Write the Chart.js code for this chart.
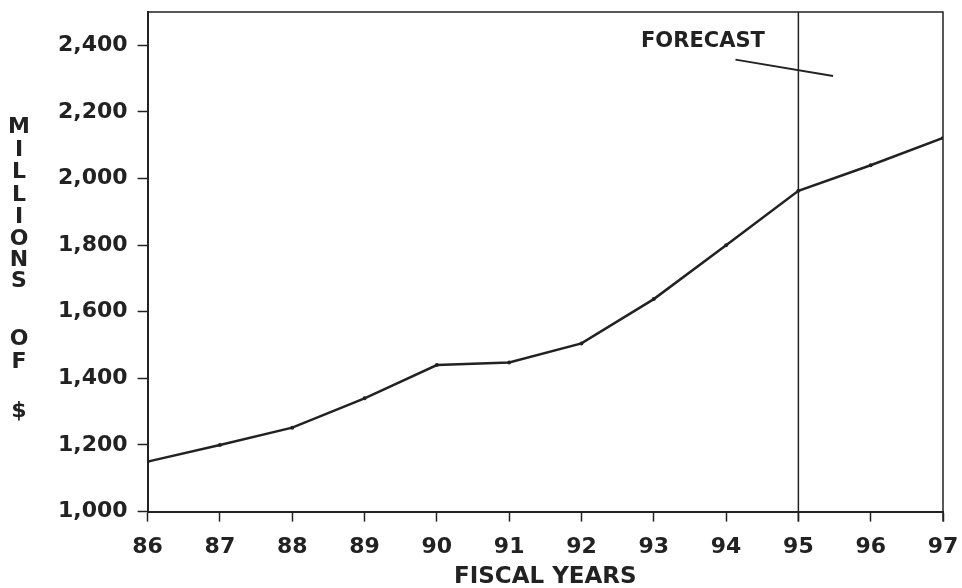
<!DOCTYPE html>
<html>
<head>
<meta charset="utf-8">
<script src="https://cdn.jsdelivr.net/npm/chart.js@4.4.0/dist/chart.umd.min.js"></script>
<style>
  body { margin: 0; background: #fff; }
  canvas { display: block; }
</style>
</head>
<body>
<canvas id="revenueChart" width="962" height="588"></canvas>
<script>
// Datos del gráfico
const years = [86, 87, 88, 89, 90, 91, 92, 93, 94, 95, 96, 97];
const amounts = [1150, 1200, 1252, 1340, 1440, 1448, 1505, 1638, 1800, 1963, 2040, 2122];
const yTicks = [1000, 1200, 1400, 1600, 1800, 2000, 2200, 2400];
const forecastYear = 95;
const yTitleLetters = ["M", "I", "L", "L", "I", "O", "N", "S", "O", "F", "$"];

const ink = "#222";
const font = "DejaVu Sans";

// Marco, línea de pronóstico y textos
const extrasPlugin = {
  id: "extras",
  afterDraw(chart) {
    const { ctx, chartArea, scales } = chart;
    const xs = scales.x;
    const ys = scales.y;
    ctx.save();
    ctx.strokeStyle = ink;

    // borde superior y derecho
    ctx.lineWidth = 1.5;
    ctx.beginPath();
    ctx.moveTo(chartArea.left, chartArea.top);
    ctx.lineTo(chartArea.right, chartArea.top);
    ctx.lineTo(chartArea.right, chartArea.bottom + 10);
    ctx.stroke();

    // línea vertical de pronóstico
    const fx = xs.getPixelForValue(forecastYear);
    ctx.beginPath();
    ctx.moveTo(fx, chartArea.top);
    ctx.lineTo(fx, chartArea.bottom + 10);
    ctx.stroke();

    // texto FORECAST con línea guía
    ctx.fillStyle = ink;
    ctx.font = "bold 21px " + font;
    ctx.textAlign = "center";
    ctx.textBaseline = "middle";
    ctx.fillText("FORECAST", xs.getPixelForValue(93.68), ys.getPixelForValue(2410));
    ctx.lineWidth = 2;
    ctx.beginPath();
    ctx.moveTo(xs.getPixelForValue(94.13), ys.getPixelForValue(2357));
    ctx.lineTo(xs.getPixelForValue(95.48), ys.getPixelForValue(2308));
    ctx.stroke();

    // título del eje X
    ctx.font = "bold 23px " + font;
    ctx.fillText("FISCAL YEARS", (chartArea.left + chartArea.right) / 2, 577);

    // título del eje Y en letras apiladas
    ctx.font = "bold 22px " + font;
    const rows = [127, 150, 172, 195, 217, 239, 260, 281, 339, 362, 411];
    yTitleLetters.forEach((letter, i) => {
      ctx.fillText(letter, 19, rows[i]);
    });
    ctx.restore();
  },
};

const ctx = document.getElementById("revenueChart").getContext("2d");
new Chart(ctx, {
  type: "line",
  data: {
    datasets: [
      {
        data: years.map((y, i) => ({ x: y, y: amounts[i] })),
        borderColor: ink,
        borderWidth: 2.5,
        pointRadius: 2,
        pointBackgroundColor: ink,
        pointBorderWidth: 0,
        tension: 0,
      },
    ],
  },
  options: {
    responsive: false,
    animation: false,
    layout: {
      padding: { left: 48, right: 19, top: 12, bottom: 16 },
    },
    plugins: {
      legend: { display: false },
      tooltip: { enabled: false },
    },
    scales: {
      x: {
        type: "linear",
        min: years[0],
        max: years[years.length - 1],
        afterBuildTicks: (scale) => {
          scale.ticks = years.map((v) => ({ value: v }));
        },
        afterFit: (scale) => {
          scale.paddingRight = 0;
          scale.paddingLeft = 0;
        },
        grid: {
          drawOnChartArea: false,
          tickLength: 10,
          tickColor: ink,
          tickWidth: 1.5,
        },
        border: { color: ink, width: 2 },
        ticks: {
          color: ink,
          font: { family: font, size: 22, weight: "bold" },
          padding: 12,
          maxRotation: 0,
        },
      },
      y: {
        min: 1000,
        max: 2500,
        afterBuildTicks: (scale) => {
          scale.ticks = yTicks.map((v) => ({ value: v }));
        },
        afterFit: (scale) => {
          scale.paddingTop = 0;
          scale.paddingBottom = 0;
        },
        grid: {
          drawOnChartArea: false,
          tickLength: 10,
          tickColor: ink,
          tickWidth: 1.5,
        },
        border: { color: ink, width: 2 },
        ticks: {
          color: ink,
          font: { family: font, size: 22, weight: "bold" },
          padding: 10,
          callback: (v) => v.toLocaleString("en-US"),
        },
      },
    },
  },
  plugins: [extrasPlugin],
});
</script>
</body>
</html>
